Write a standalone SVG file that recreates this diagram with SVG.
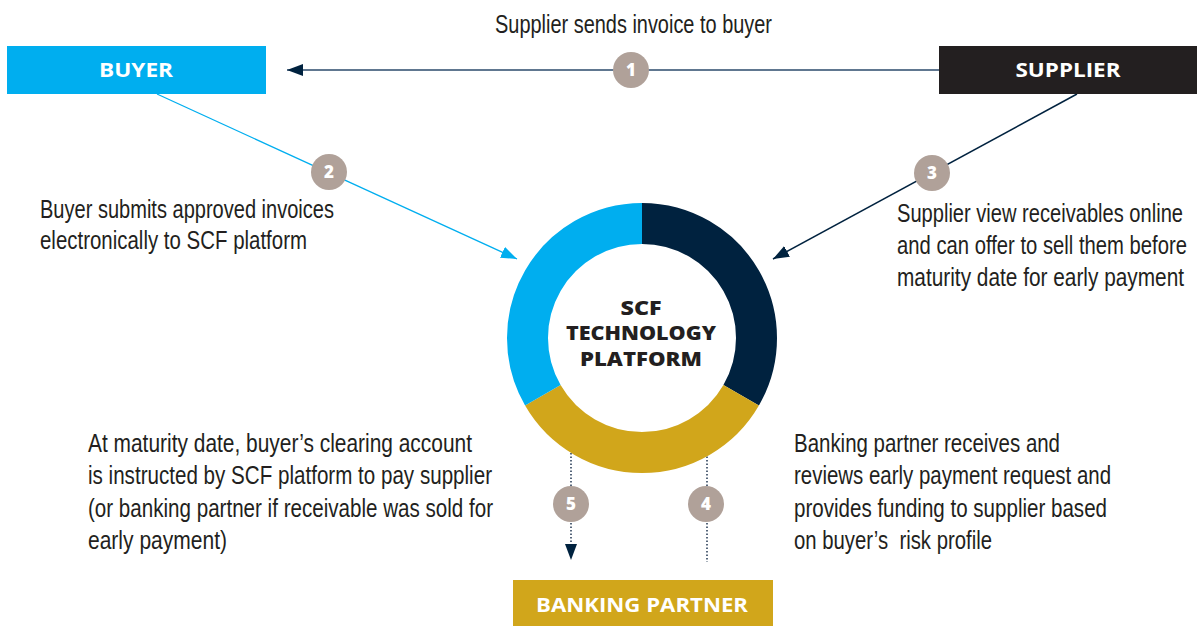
<svg xmlns="http://www.w3.org/2000/svg" width="1201" height="626" viewBox="0 0 1201 626">
<style>
.body{font-family:"Liberation Sans",Arial,sans-serif;font-size:25px;fill:#231F20}
.lbl{font-family:"Open Sans","Liberation Sans",sans-serif;font-weight:700;font-size:19px;fill:#ffffff;text-anchor:middle}
.ctr{font-family:"Open Sans","Liberation Sans",sans-serif;font-weight:800;font-size:19px;fill:#231F20;text-anchor:middle}
.badge circle{fill:#B0A199}
.badge text{font-family:"Open Sans","Liberation Sans",sans-serif;font-weight:800;font-size:17px;fill:#ffffff;text-anchor:middle}
.dot{stroke:#1F3550;stroke-width:1.5;stroke-dasharray:1.5 2;fill:none}
</style>
<defs>
<marker id="ahNavy" viewBox="0 0 16 12" refX="16" refY="6" markerUnits="userSpaceOnUse" markerWidth="16" markerHeight="12" orient="auto"><path d="M0,0 L16,6 L0,12 z" fill="#00223F"/></marker>
<marker id="ahBlue" viewBox="0 0 16 12" refX="16" refY="6" markerUnits="userSpaceOnUse" markerWidth="16" markerHeight="12" orient="auto"><path d="M0,0 L16,6 L0,12 z" fill="#00AEEF"/></marker>
</defs>
<rect width="1201" height="626" fill="#ffffff"/>

<g id="connectors">
<line x1="940" y1="70" x2="287" y2="70" stroke="#2B4A6B" stroke-width="1.6" marker-end="url(#ahNavy)"/>
<line x1="157" y1="94" x2="517" y2="259" stroke="#00AEEF" stroke-width="1.3" marker-end="url(#ahBlue)"/>
<line x1="1077" y1="94" x2="773" y2="259" stroke="#00223F" stroke-width="1.5" marker-end="url(#ahNavy)"/>
<line class="dot" x1="571" y1="453" x2="571" y2="546"/>
<path d="M565,544 L577,544 L571,560 z" fill="#00223F"/>
<line class="dot" x1="707" y1="453" x2="707" y2="562"/>
</g>

<g id="buyer">
<rect x="7" y="46" width="259" height="48" fill="#00AEEF"/>
<text class="lbl" x="136" y="77" textLength="74" lengthAdjust="spacingAndGlyphs">BUYER</text>
</g>
<g id="supplier">
<rect x="939" y="46" width="258" height="48" fill="#231F20"/>
<text class="lbl" x="1068" y="77" textLength="105" lengthAdjust="spacingAndGlyphs">SUPPLIER</text>
</g>
<g id="banking-partner">
<rect x="513" y="580" width="260" height="46" fill="#D1A61B"/>
<text class="lbl" x="642" y="612" textLength="212" lengthAdjust="spacingAndGlyphs">BANKING PARTNER</text>
</g>

<g id="platform">
<path d="M642,223.5 A114.5,114.5 0 0 1 741.16,395.25" fill="none" stroke="#00223F" stroke-width="41"/>
<path d="M741.16,395.25 A114.5,114.5 0 0 1 542.84,395.25" fill="none" stroke="#D1A61B" stroke-width="41"/>
<path d="M542.84,395.25 A114.5,114.5 0 0 1 642,223.5" fill="none" stroke="#00AEEF" stroke-width="41"/>
<text class="ctr" x="641" y="315" textLength="41" lengthAdjust="spacingAndGlyphs">SCF</text>
<text class="ctr" x="641" y="340" textLength="150" lengthAdjust="spacingAndGlyphs">TECHNOLOGY</text>
<text class="ctr" x="641" y="366" textLength="122" lengthAdjust="spacingAndGlyphs">PLATFORM</text>
</g>

<g id="badge1" class="badge"><circle cx="631" cy="70" r="18"/><text x="631" y="76">1</text></g>
<g id="badge2" class="badge"><circle cx="329" cy="172" r="18"/><text x="329" y="178">2</text></g>
<g id="badge3" class="badge"><circle cx="932" cy="173" r="18"/><text x="932" y="179">3</text></g>
<g id="badge4" class="badge"><circle cx="706" cy="504" r="18"/><text x="706" y="510">4</text></g>
<g id="badge5" class="badge"><circle cx="571" cy="504" r="18"/><text x="571" y="510">5</text></g>

<g id="label1">
<text class="body" x="495" y="33" textLength="277" lengthAdjust="spacingAndGlyphs">Supplier sends invoice to buyer</text>
</g>
<g id="label2">
<text class="body" x="40" y="218" textLength="294" lengthAdjust="spacingAndGlyphs">Buyer submits approved invoices</text>
<text class="body" x="40" y="249" textLength="267" lengthAdjust="spacingAndGlyphs">electronically to SCF platform</text>
</g>
<g id="label3">
<text class="body" x="897" y="222" textLength="286" lengthAdjust="spacingAndGlyphs">Supplier view receivables online</text>
<text class="body" x="897" y="254" textLength="290" lengthAdjust="spacingAndGlyphs">and can offer to sell them before</text>
<text class="body" x="897" y="286" textLength="287" lengthAdjust="spacingAndGlyphs">maturity date for early payment</text>
</g>
<g id="label4">
<text class="body" x="794" y="452" textLength="266" lengthAdjust="spacingAndGlyphs">Banking partner receives and</text>
<text class="body" x="794" y="484" textLength="317" lengthAdjust="spacingAndGlyphs">reviews early payment request and</text>
<text class="body" x="794" y="517" textLength="313" lengthAdjust="spacingAndGlyphs">provides funding to supplier based</text>
<text class="body" x="794" y="549" textLength="198" lengthAdjust="spacingAndGlyphs" xml:space="preserve">on buyer’s  risk profile</text>
</g>
<g id="label5">
<text class="body" x="88" y="452" textLength="384" lengthAdjust="spacingAndGlyphs">At maturity date, buyer’s clearing account</text>
<text class="body" x="88" y="484" textLength="404" lengthAdjust="spacingAndGlyphs">is instructed by SCF platform to pay supplier</text>
<text class="body" x="88" y="517" textLength="405" lengthAdjust="spacingAndGlyphs">(or banking partner if receivable was sold for</text>
<text class="body" x="88" y="549" textLength="139" lengthAdjust="spacingAndGlyphs">early payment)</text>
</g>
</svg>
